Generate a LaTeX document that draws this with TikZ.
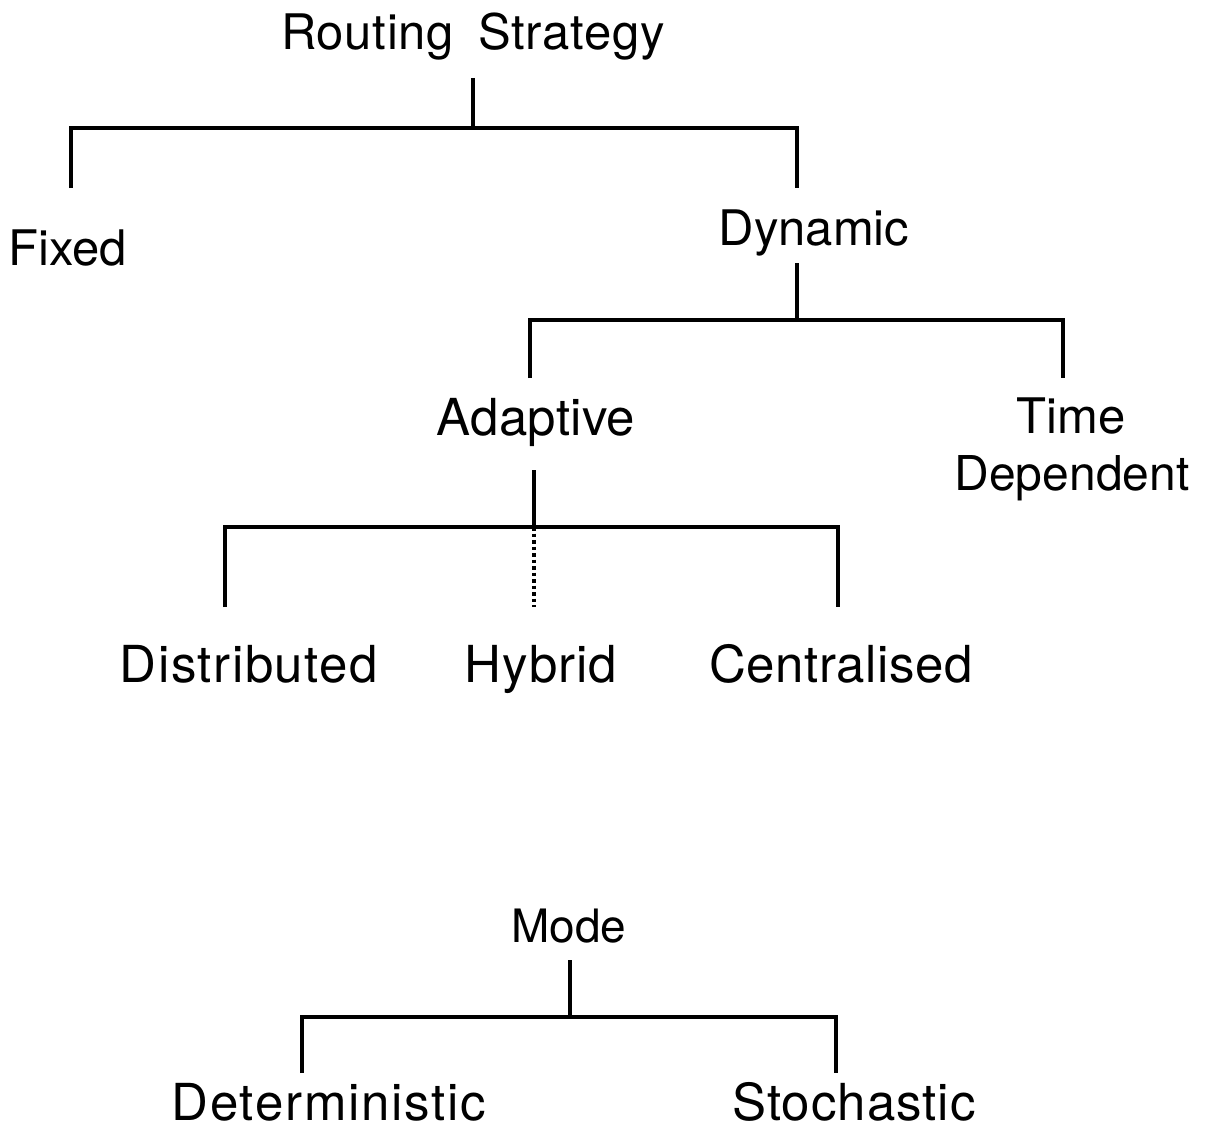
\documentclass[tikz,border=0pt]{standalone}
\usepackage{fontspec}
\setmainfont{TeX Gyre Heros}
\begin{document}
\begin{tikzpicture}[x=1pt,y=-1pt,
  lbl/.style={anchor=base,inner sep=0pt,font=\fontsize{49}{56}\selectfont},
  wide/.style={anchor=base,inner sep=0pt,
    font=\fontsize{51}{58}\selectfont\addfontfeatures{LetterSpace=#1}},
  small/.style={lbl,font=\fontsize{46}{52}\selectfont},
  branch/.style={line width=3.3pt,line cap=butt,line join=miter},
  maybe/.style={line width=3.3pt,dash pattern=on 3.5pt off 3pt}]
\useasboundingbox (0,0) rectangle (1205,1129);

% ---- routing strategy taxonomy ----
\node[lbl,font=\fontsize{49}{56}\selectfont\addfontfeatures{LetterSpace=1.5}]
  (rs) at (473,50) {Routing\hspace{0.5em}Strategy};
\node[lbl] (fixed) at (68,265) {Fixed};
\node[lbl] (dyn) at (814,245) {Dynamic};
\node[wide=0.5] (adapt) at (536,435) {Adaptive};
\node[lbl] (time) at (1071,433) {Time};
\node[lbl,font=\fontsize{48}{55}\selectfont] (dep) at (1072,490) {Dependent};
\node[wide=3] (dist) at (249,682) {Distributed};
\node[wide=2] (hyb) at (541,682) {Hybrid};
\node[wide=1] (cent) at (841,682) {Centralised};

\coordinate (rsTop) at (473,78);
\coordinate (rsJ) at (473,128);
\coordinate (fixL) at (71,128);  \coordinate (fixE) at (71,188);
\coordinate (dynR) at (797,128); \coordinate (dynE) at (797,188);
\draw[branch] (rsTop) -- (rsJ);
\draw[branch] (fixE) -- (fixL) -- (dynR) -- (dynE);

\coordinate (dynTop) at (797,263);
\coordinate (dynJ) at (797,320);
\coordinate (adL) at (530,320);  \coordinate (adE) at (530,378);
\coordinate (tdR) at (1063,320); \coordinate (tdE) at (1063,378);
\draw[branch] (dynTop) -- (dynJ);
\draw[branch] (adE) -- (adL) -- (tdR) -- (tdE);

\coordinate (adTop) at (534,470);
\coordinate (adJ) at (534,527);
\coordinate (diL) at (225,527);  \coordinate (diE) at (225,607);
\coordinate (ceR) at (838,527);  \coordinate (ceE) at (838,607);
\coordinate (hyE) at (534,607);
\draw[branch] (adTop) -- (adJ);
\draw[branch] (diE) -- (diL) -- (ceR) -- (ceE);
\draw[maybe] (adJ) -- (hyE);

% ---- mode taxonomy ----
\node[small] (mode) at (569,942) {Mode};
\node[wide=3.5] (det) at (329,1120) {Deterministic};
\node[wide=2] (sto) at (854,1120) {Stochastic};

\coordinate (moTop) at (570,960);
\coordinate (moJ) at (570,1017);
\coordinate (deL) at (302,1017); \coordinate (deE) at (302,1073);
\coordinate (stR) at (836,1017); \coordinate (stE) at (836,1073);
\draw[branch] (moTop) -- (moJ);
\draw[branch] (deE) -- (deL) -- (stR) -- (stE);
\end{tikzpicture}
\end{document}
